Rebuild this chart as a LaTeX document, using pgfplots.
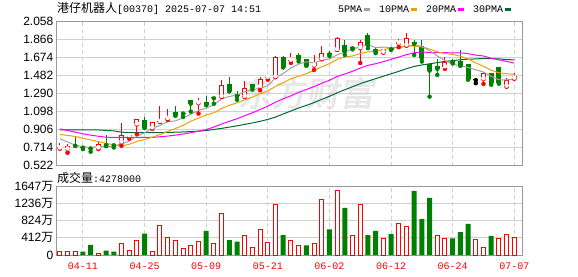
\documentclass[border=0pt]{standalone}
\usepackage{fontspec}
\setmainfont{Liberation Sans}
\newfontfamily\cjk{Noto Sans CJK SC}
\newfontfamily\cjkwm[FakeBold=2.5,FakeSlant=0.15]{Noto Sans CJK SC}
\newfontfamily\mono{Liberation Mono}
\usepackage{pgfplots}
\usepackage{pgfplotstable}
\pgfplotsset{compat=1.18}
\definecolor{kred}{HTML}{FF0000}
\definecolor{kgreen}{HTML}{008000}
\definecolor{ma5}{HTML}{A0A0A0}
\definecolor{ma10}{HTML}{F0A000}
\definecolor{ma20}{HTML}{FF00FF}
\definecolor{ma30}{HTML}{006B2E}
\definecolor{gridc}{HTML}{D0D0D0}
\definecolor{framec}{HTML}{999999}
\definecolor{wmc}{HTML}{E8E8E8}

% red (up) candles: i open high low close
\pgfplotstableread{
i open high low close
0 0.706 0.768 0.705 0.710
1 0.696 0.749 0.661 0.728
5 0.707 0.780 0.700 0.749
8 0.771 0.979 0.735 0.845
9 0.836 0.873 0.810 0.840
10 0.962 1.020 0.860 1.015
12 0.920 0.983 0.915 0.983
13 0.988 1.156 0.988 0.992
14 1.020 1.130 1.010 1.035
18 1.186 1.238 1.077 1.190
21 1.255 1.437 1.255 1.384
24 1.255 1.426 1.255 1.349
26 1.360 1.461 1.325 1.447
27 1.458 1.489 1.437 1.462
28 1.465 1.691 1.465 1.681
30 1.640 1.726 1.615 1.645
33 1.587 1.700 1.540 1.615
34 1.655 1.800 1.655 1.725
36 1.754 1.896 1.754 1.879
39 1.772 1.860 1.615 1.843
42 1.726 1.765 1.726 1.762
44 1.822 1.868 1.783 1.826
45 1.800 1.932 1.800 1.879
50 1.570 1.676 1.552 1.630
55 1.442 1.506 1.392 1.506
58 1.364 1.455 1.364 1.435
59 1.449 1.506 1.449 1.477
}\redk

% green (down) candles
\pgfplotstableread{
i open high low close
2 0.745 0.824 0.733 0.735
3 0.720 0.730 0.700 0.715
4 0.714 0.716 0.672 0.705
6 0.750 0.845 0.731 0.742
7 0.745 0.756 0.717 0.740
11 1.007 1.040 0.926 0.926
15 1.098 1.157 1.053 1.063
16 1.080 1.080 1.042 1.077
17 1.217 1.217 1.098 1.182
19 1.203 1.259 1.168 1.168
20 1.243 1.243 1.182 1.240
22 1.391 1.471 1.314 1.314
23 1.280 1.321 1.224 1.259
25 1.391 1.391 1.332 1.356
29 1.674 1.691 1.569 1.569
31 1.702 1.719 1.632 1.657
32 1.657 1.657 1.587 1.587
35 1.712 1.740 1.690 1.706
37 1.807 1.860 1.700 1.736
38 1.775 1.790 1.760 1.770
40 1.914 1.938 1.772 1.807
41 1.762 1.780 1.720 1.733
43 1.780 1.790 1.755 1.758
46 1.843 1.860 1.700 1.818
47 1.797 1.860 1.630 1.666
48 1.605 1.605 1.257 1.534
49 1.584 1.655 1.488 1.552
51 1.640 1.655 1.610 1.625
52 1.640 1.754 1.587 1.587
53 1.605 1.605 1.437 1.442
56 1.506 1.506 1.384 1.400
57 1.570 1.570 1.395 1.406
}\greenk

% flat (doji) candle
\pgfplotstableread{
i open high low close
54 1.432 1.455 1.400 1.432
}\flatk

% moving averages
\pgfplotstableread{
i ma5 ma10 ma20 ma30
0 0.810 0.855 0.915 0.905
1 0.775 0.845 0.898 0.905
2 0.742 0.834 0.880 0.905
3 0.724 0.815 0.862 0.904
4 0.719 0.797 0.848 0.904
5 0.726 0.780 0.836 0.903
6 0.729 0.761 0.826 0.898
7 0.730 0.745 0.824 0.893
8 0.756 0.733 0.823 0.880
9 0.783 0.751 0.823 0.875
10 0.836 0.781 0.823 0.874
11 0.873 0.801 0.823 0.874
12 0.922 0.826 0.824 0.874
13 0.951 0.854 0.830 0.875
14 0.990 0.887 0.838 0.877
15 1.000 0.918 0.848 0.879
16 1.030 0.952 0.860 0.882
17 1.070 0.996 0.874 0.886
18 1.109 1.030 0.890 0.890
19 1.136 1.063 0.907 0.897
20 1.171 1.086 0.934 0.908
21 1.233 1.131 0.966 0.920
22 1.259 1.165 0.995 0.933
23 1.273 1.191 1.022 0.947
24 1.309 1.223 1.055 0.962
25 1.332 1.252 1.085 0.978
26 1.345 1.289 1.120 0.995
27 1.375 1.317 1.156 1.015
28 1.459 1.366 1.198 1.040
29 1.503 1.406 1.235 1.073
30 1.561 1.447 1.266 1.105
31 1.603 1.474 1.303 1.136
32 1.628 1.501 1.333 1.164
33 1.615 1.537 1.364 1.194
34 1.646 1.574 1.399 1.228
35 1.658 1.609 1.431 1.260
36 1.702 1.653 1.471 1.298
37 1.732 1.680 1.498 1.331
38 1.763 1.689 1.527 1.362
39 1.787 1.716 1.561 1.395
40 1.807 1.733 1.590 1.422
41 1.778 1.740 1.607 1.448
42 1.783 1.758 1.629 1.474
43 1.781 1.772 1.654 1.500
44 1.777 1.782 1.678 1.526
45 1.792 1.799 1.704 1.554
46 1.809 1.793 1.723 1.578
47 1.789 1.786 1.733 1.594
48 1.745 1.763 1.726 1.606
49 1.690 1.734 1.725 1.619
50 1.640 1.716 1.724 1.632
51 1.601 1.705 1.723 1.640
52 1.586 1.688 1.723 1.649
53 1.567 1.656 1.714 1.655
54 1.543 1.616 1.699 1.658
55 1.518 1.579 1.689 1.663
56 1.473 1.537 1.665 1.661
57 1.437 1.511 1.649 1.659
58 1.435 1.501 1.632 1.651
59 1.445 1.494 1.614 1.648
}\mas

% volumes (in 10k shares)
\pgfplotstableread{
i v
0 95
1 95
2 72
5 24
8 263
9 119
10 358
12 95
13 708
14 422
15 358
16 167
17 215
18 314
20 263
21 979
24 454
25 183
26 597
27 310
28 1194
30 358
31 231
33 263
34 1313
36 1528
38 454
39 1194
42 398
44 756
45 692
49 477
50 398
54 374
55 183
57 398
58 501
59 428
}\volred

\pgfplotstableread{
i v
3 80
4 239
6 103
7 80
11 509
19 573
22 358
23 318
29 477
32 231
35 613
37 1122
40 477
41 573
43 501
46 1528
47 859
48 1361
51 398
52 549
53 740
56 454
}\volgreen

\pgfplotsset{
  kbase/.style={
    scale only axis, width=466pt,
    xmin=-0.5, xmax=60,
    axis line style={draw=framec, line width=1pt},
    major tick length=0pt,
    xtick={3,11,19,27,35,43,51,59},
    xmajorgrids, ymajorgrids,
    x grid style={draw=gridc, line width=1pt, dash pattern=on 4pt off 3pt},
    y grid style={draw=gridc, line width=1pt},
    yticklabel style={font=\fontsize{12pt}{12pt}\selectfont, inner sep=0pt, xshift=-2.5pt},
    /pgf/number format/assume math mode=true,
  },
  wick/.style={color=#1, only marks, mark=none, forget plot,
    error bars/.cd, y dir=plus, y explicit, error mark=none,
    error bar style={color=#1, line width=1pt}},
  body/.style={color=#1, only marks, mark=none, forget plot,
    error bars/.cd, y dir=plus, y explicit, error mark=none,
    error bar style={color=#1, line width=5pt}},
  inner/.style={color=white, only marks, mark=none, forget plot,
    error bars/.cd, y dir=plus, y explicit, error mark=none,
    error bar style={color=white, line width=3pt}},
}

\begin{document}
\begin{tikzpicture}
\path[use as bounding box] (0,0) rectangle (578pt,276pt);

% watermark
\node[text=wmc, inner sep=0pt] at (306pt,183pt) {\cjkwm\fontsize{34pt}{34pt}\selectfont 东方财富};

% title and legend
\node[anchor=base west, inner sep=0pt] at (57pt,263.3pt)
  {{\cjk\fontsize{12pt}{12pt}\selectfont 港仔机器人}{\mono\fontsize{10pt}{10pt}\selectfont[00370] 2025-07-07 14:51}};
\node[anchor=base west, inner sep=0pt] at (338pt,263.3pt)
  {\mono\fontsize{10pt}{10pt}\selectfont 5PMA\hspace{2pt}{\color{ma5}\rule[2pt]{6pt}{3pt}}\hspace{9pt}10PMA\hspace{2pt}{\color{ma10}\rule[2pt]{6pt}{3pt}}\hspace{9pt}20PMA\hspace{2pt}{\color{ma20}\rule[2pt]{6pt}{3pt}}\hspace{9pt}30PMA\hspace{2pt}{\color{ma30}\rule[2pt]{6pt}{3pt}}};

% price axis
\begin{axis}[kbase, at={(56pt,110.2pt)}, anchor=south west, height=144.5pt,
  ymin=0.522, ymax=2.058,
  ytick={0.522,0.714,0.906,1.098,1.290,1.482,1.674,1.866,2.058},
  yticklabels={0.522,0.714,0.906,1.098,1.290,1.482,1.674,1.866,2.058},
  xticklabels={},
]
% wicks
\addplot[wick=kred] table[x=i, y=low, y error plus expr=\thisrow{high}-\thisrow{low}] {\redk};
\addplot[wick=kgreen] table[x=i, y=low, y error plus expr=\thisrow{high}-\thisrow{low}] {\greenk};
\addplot[wick=black] table[x=i, y=low, y error plus expr=\thisrow{high}-\thisrow{low}] {\flatk};
% bodies
\addplot[body=kred] table[x=i, y=open, y error plus expr={max(\thisrow{close}-\thisrow{open},0.011)}] {\redk};
\addplot[inner] table[x=i, y expr=\thisrow{open}+0.0106, y error plus expr={max(\thisrow{close}-\thisrow{open}-0.0212,0)}] {\redk};
\addplot[body=kgreen] table[x=i, y=close, y error plus expr={max(\thisrow{open}-\thisrow{close},0.011)}] {\greenk};
\addplot[body=black] table[x=i, y=close, y error plus expr={0.011}] {\flatk};
% moving averages
\addplot[ma30, line width=1pt, mark=none] table[x=i, y=ma30] {\mas};
\addplot[ma20, line width=1pt, mark=none] table[x=i, y=ma20] {\mas};
\addplot[ma10, line width=1pt, mark=none] table[x=i, y=ma10] {\mas};
\addplot[ma5, line width=1pt, mark=none] table[x=i, y=ma5] {\mas};
\end{axis}

% volume text
\node[anchor=base west, inner sep=0pt] at (57pt,93.5pt)
  {{\cjk\fontsize{12pt}{12pt}\selectfont 成交量}{\mono\fontsize{10pt}{10pt}\selectfont:4278000}};

% volume axis
\begin{axis}[kbase, at={(56pt,21pt)}, anchor=south west, height=69pt,
  ymin=0, ymax=1647,
  ytick={0,412,824,1236,1647},
  yticklabels={0,412{\cjk 万},824{\cjk 万},1236{\cjk 万},1647{\cjk 万}},
  xticklabels={04-11,04-25,05-09,05-21,06-02,06-12,06-24,07-07},
  xticklabel style={font=\mono\fontsize{10pt}{10pt}\selectfont, text=kred, anchor=center, inner sep=0pt, yshift=-11.7pt},
]
\addplot[ybar, bar width=4pt, bar shift=0pt, draw=kred, fill=white, line width=1pt] table[x=i, y=v] {\volred};
\addplot[ybar, bar width=5pt, bar shift=0pt, draw=none, fill=kgreen] table[x=i, y=v] {\volgreen};
\end{axis}
\end{tikzpicture}
\end{document}
